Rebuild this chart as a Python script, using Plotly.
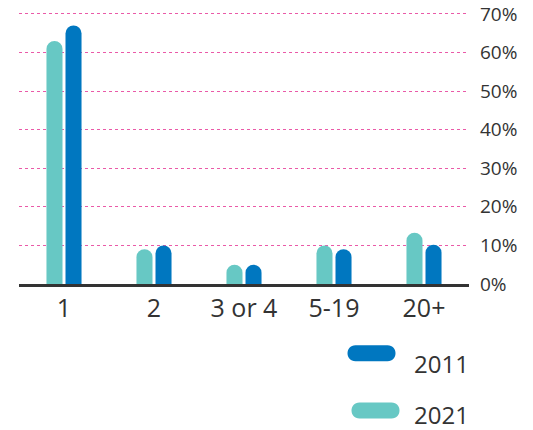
import plotly.graph_objects as go

categories = ["1", "2", "3 or 4", "5-19", "20+"]
values_2021 = [63, 9, 5, 10, 13.3]
values_2011 = [67, 10, 5, 9, 10.2]
y_ticks = [0, 10, 20, 30, 40, 50, 60, 70]
y_tick_labels = ["0%", "10%", "20%", "30%", "40%", "50%", "60%", "70%"]

BLUE = "#0077c0"
TEAL = "#67c8c4"
FONT = "Open Sans"
W, H = 533, 430
Y_MAX = 70.5
PX_PER_UNIT = (284.3 - 13.7) / 70
ML, MR = 19, 64
MB = H - 284.3
MT = 13.7 - (Y_MAX - 70) * PX_PER_UNIT
PW = W - ML - MR
PH = H - MT - MB

def px_to_paper(px, py):
    return (px - ML) / PW, (H - MB - py) / PH

fig = go.Figure()
fig.add_trace(go.Bar(x=categories, y=values_2021, name="2021",
                     marker=dict(color=TEAL, cornerradius=8, line=dict(width=0))))
fig.add_trace(go.Bar(x=categories, y=values_2011, name="2011",
                     marker=dict(color=BLUE, cornerradius=8, line=dict(width=0))))

capsule = "M -16,-8 L 16,-8 C 26.67,-8 26.67,8 16,8 L -16,8 C -26.67,8 -26.67,-8 -16,-8 Z"
shapes = []
annotations = []
for color, label, cx, cy, ty in [(BLUE, "2011", 371.5, 353.7, 364.3), (TEAL, "2021", 375.5, 411, 415.5)]:
    ax, ay = px_to_paper(cx, cy)
    shapes.append(dict(type="path", xref="paper", yref="paper", xsizemode="pixel", ysizemode="pixel",
                       xanchor=ax, yanchor=ay, path=capsule, fillcolor=color, line=dict(width=0)))
    tx, tyy = px_to_paper(413, ty)
    annotations.append(dict(text=label, xref="paper", yref="paper", x=tx, y=tyy, xanchor="left",
                            yanchor="middle", showarrow=False, borderpad=0,
                            font=dict(family=FONT, size=24, color="#333333")))

fig.update_layout(
    width=W, height=H,
    margin=dict(l=ML, r=MR, t=MT, b=MB, autoexpand=False),
    plot_bgcolor="white", paper_bgcolor="white",
    showlegend=False,
    bargap=0.577, bargroupgap=0.158,
    shapes=shapes, annotations=annotations,
    font=dict(family=FONT, color="#333333"),
)
fig.update_xaxes(showline=True, linecolor="#333333", linewidth=3, showgrid=False, ticks="",
                 automargin=False, tickfont=dict(family=FONT, size=25, color="#333333"))
fig.update_yaxes(range=[0, Y_MAX], side="right", tickvals=y_ticks, ticktext=y_tick_labels,
                 showgrid=True, gridcolor="#ea5aa8", griddash="dot", gridwidth=1,
                 zeroline=False, showline=False, ticks="", automargin=False,
                 ticklabelstandoff=10, ticklabeloverflow="allow",
                 tickfont=dict(family=FONT, size=19, color="#333333"))

fig.write_html("out.html", config={"displayModeBar": False},
               post_script="document.body.style.margin='0';")
